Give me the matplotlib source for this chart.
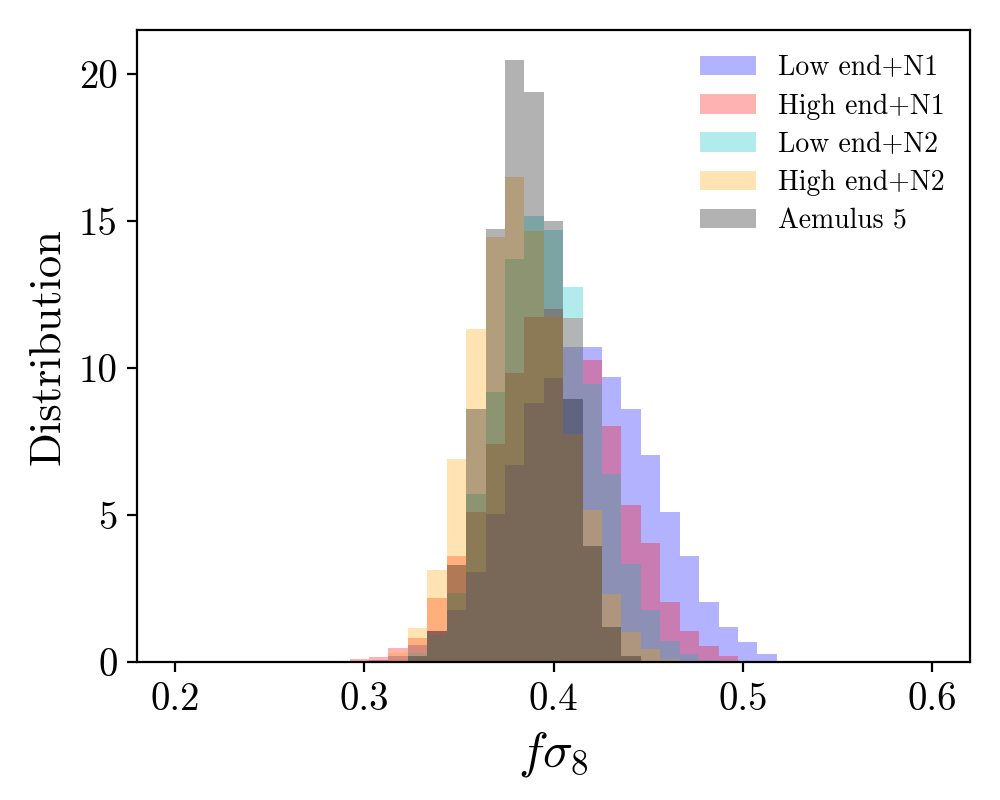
import numpy as np
import matplotlib
matplotlib.use("Agg")
import matplotlib.pyplot as plt

plt.rcParams['font.family'] = 'serif'
plt.rcParams['font.serif'] = ['cmr10']
plt.rcParams['mathtext.fontset'] = 'cm'
plt.rcParams['axes.formatter.use_mathtext'] = True

# common bins: 39 bins between 0.2 and 0.6
edges = np.linspace(0.2, 0.6, 40)
centers = 0.5 * (edges[1:] + edges[:-1])

# normalised histogram heights, bins 9..31
first_bin = 9
low_n1 = [0.05, 0.09, 0.22, 0.59, 1.07, 1.78, 3.08, 5.04, 6.71, 8.82, 9.67, 10.72,
          10.72, 9.70, 8.61, 7.05, 5.11, 3.62, 2.05, 1.21, 0.70, 0.29, 0.05]
high_n1 = [0.10, 0.19, 0.49, 0.84, 2.19, 3.62, 5.11, 7.42, 9.84, 11.74, 12.01, 11.70,
           10.28, 8.04, 5.35, 4.07, 2.05, 1.07, 0.56, 0.22, 0.05, 0.0, 0.0]
low_n2 = [0.0, 0.0, 0.0, 0.32, 0.94, 2.36, 5.73, 9.19, 13.71, 15.17, 14.69, 12.76,
          9.46, 6.41, 3.34, 1.78, 0.73, 0.29, 0.07, 0.0, 0.0, 0.0, 0.0]
high_n2 = [0.0, 0.0, 0.32, 1.18, 3.14, 6.91, 11.33, 14.46, 16.50, 14.66, 11.74, 7.76,
           5.18, 2.33, 1.03, 0.46, 0.12, 0.03, 0.0, 0.0, 0.0, 0.0, 0.0]
aemulus = [0.0, 0.0, 0.0, 0.22, 1.07, 3.31, 8.61, 14.73, 20.47, 19.38, 15.00, 8.95,
           3.96, 1.21, 0.22, 0.03, 0.0, 0.0, 0.0, 0.0, 0.0, 0.0, 0.0]

series = [
    (low_n1, 'b', 'Low end+N1'),
    (high_n1, 'r', 'High end+N1'),
    (low_n2, 'c', 'Low end+N2'),
    (high_n2, 'orange', 'High end+N2'),
    (aemulus, 'k', 'Aemulus 5'),
]

fig = plt.figure(figsize=(5, 4), dpi=200)
ax = fig.add_axes([0.137, 0.172, 0.833, 0.7905])

for vals, col, lab in series:
    w = np.zeros(len(centers))
    w[first_bin:first_bin + len(vals)] = vals
    ax.hist(centers, bins=edges, weights=w, alpha=0.3, color=col, label=lab)

ax.set_xticks([0.2, 0.3, 0.4, 0.5, 0.6])
ax.set_xticklabels(['0.2', '0.3', '0.4', '0.5', '0.6'])
ax.set_yticks([0, 5, 10, 15, 20])
ax.set_yticklabels(['0', '5', '10', '15', '20'])
ax.tick_params(labelsize=14)
ax.set_xlabel(r'$f\sigma_8$', fontsize=18)
ax.set_ylabel('Distribution', fontsize=16)
ax.legend(frameon=False, fontsize=10, loc='upper right', labelspacing=0.43)

plt.savefig('out.png')
